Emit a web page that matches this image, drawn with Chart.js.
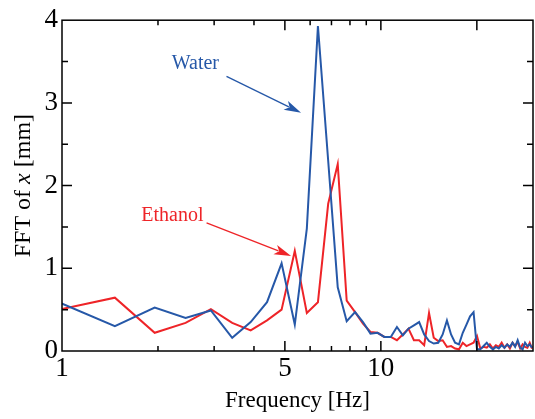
<!DOCTYPE html>
<html>
<head>
<meta charset="utf-8">
<script src="https://cdn.jsdelivr.net/npm/chart.js@4.4.0/dist/chart.umd.min.js"></script>
<style>
html, body { margin: 0; padding: 0; background: #fff; }
#wrap { width: 535px; height: 419px; }
</style>
</head>
<body>
<div id="wrap"><canvas id="fft"></canvas></div>
<script>
// frequency bins [Hz]
var freq = [0.977, 1.465, 1.953, 2.441, 2.930, 3.418, 3.906, 4.395, 4.883, 5.371,
    5.859, 6.348, 6.836, 7.324, 7.813, 8.301, 8.789, 9.277, 9.766, 10.254,
    10.742, 11.230, 11.719, 12.207, 12.695, 13.184, 13.672, 14.160, 14.648, 15.137,
    15.625, 16.113, 16.602, 17.090, 17.578, 18.066, 18.555, 19.043, 19.531, 20.020,
    20.508, 20.996, 21.484, 21.973, 22.461, 22.949, 23.438, 23.926, 24.414, 24.902,
    25.391, 25.879, 26.367, 26.855, 27.344, 27.832, 28.320, 28.809, 29.297, 29.785];

// FFT amplitude [mm]
var water = [0.59, 0.30, 0.525, 0.40, 0.49, 0.16, 0.35, 0.59, 1.06, 0.32,
    1.48, 3.93, 2.30, 0.77, 0.36, 0.47, 0.35, 0.21, 0.22, 0.17,
    0.17, 0.29, 0.19, 0.27, 0.31, 0.35, 0.20, 0.12, 0.09, 0.10,
    0.20, 0.37, 0.20, 0.10, 0.08, 0.22, 0.32, 0.42, 0.47, 0.02,
    0.02, 0.06, 0.10, 0.05, 0.02, 0.05, 0.03, 0.07, 0.04, 0.08,
    0.05, 0.10, 0.05, 0.13, 0.04, 0.02, 0.10, 0.06, 0.08, 0.04];

var ethanol = [0.50, 0.645, 0.22, 0.34, 0.505, 0.34, 0.25, 0.37, 0.50, 1.21,
    0.46, 0.59, 1.78, 2.26, 0.61, 0.47, 0.33, 0.23, 0.22, 0.17,
    0.17, 0.13, 0.20, 0.27, 0.13, 0.13, 0.07, 0.46, 0.16, 0.12,
    0.13, 0.05, 0.06, 0.03, 0.02, 0.10, 0.06, 0.08, 0.10, 0.18,
    0.03, 0.05, 0.04, 0.08, 0.03, 0.07, 0.05, 0.10, 0.04, 0.08,
    0.03, 0.10, 0.06, 0.11, 0.03, 0.08, 0.05, 0.04, 0.10, 0.03];

var xTicks = [1, 2, 3, 4, 5, 6, 7, 8, 9, 10, 20, 30];
var xLabels = [1, 5, 10];
var xMajor = [5, 10, 20];
var yTicks = [0, 1, 2, 3, 4];
var yMinor = [0.5, 1.5, 2.5, 3.5];

var blue = 'rgb(38, 88, 168)';
var red = 'rgb(238, 36, 40)';
var serif = "'Liberation Serif', 'Times New Roman', serif";

function pts(ys) {
    return freq.map(function (f, i) { return { x: f, y: ys[i] }; });
}

// box, inward ticks, y title and the two arrows
var frame = {
    id: 'frame',
    afterDraw: function (chart) {
        var c = chart.ctx, a = chart.chartArea;
        var xs = chart.scales.x, ys = chart.scales.y;
        c.save();
        c.strokeStyle = '#000';
        c.lineWidth = 1.5;
        c.strokeRect(a.left, a.top, a.right - a.left, a.bottom - a.top);
        c.beginPath();
        xTicks.forEach(function (v) {
            var px = xs.getPixelForValue(v);
            if (px <= a.left + 1 || px >= a.right - 1) return;
            var len = xMajor.indexOf(v) >= 0 ? 10 : 5;
            c.moveTo(px, a.bottom); c.lineTo(px, a.bottom - len);
            c.moveTo(px, a.top); c.lineTo(px, a.top + len);
        });
        yTicks.concat(yMinor).forEach(function (v) {
            var py = ys.getPixelForValue(v);
            if (py <= a.top + 1 || py >= a.bottom - 1) return;
            var len = yTicks.indexOf(v) >= 0 ? 10 : 6;
            c.moveTo(a.left, py); c.lineTo(a.left + len, py);
            c.moveTo(a.right, py); c.lineTo(a.right - len, py);
        });
        c.stroke();

        // y title with italic x
        var parts = [['FFT of ', ''], ['x', 'italic '], [' [mm]', '']];
        var size = 24, w = 0;
        parts.forEach(function (p) { c.font = p[1] + size + 'px ' + serif; w += c.measureText(p[0]).width; });
        c.translate(24, (a.top + a.bottom) / 2);
        c.rotate(-Math.PI / 2);
        c.fillStyle = '#000';
        c.textBaseline = 'middle';
        c.textAlign = 'left';
        var x0 = -w / 2;
        parts.forEach(function (p) {
            c.font = p[1] + size + 'px ' + serif;
            c.fillText(p[0], x0, 0);
            x0 += c.measureText(p[0]).width;
        });
        c.restore();

        note(chart, 'Water', blue, 2.62, 3.47, [3.28, 3.32], [5.62, 2.88]);
        note(chart, 'Ethanol', red, 2.22, 1.64, [2.84, 1.55], [5.23, 1.15]);
    }
};

function note(chart, text, color, tx, ty, from, to) {
    var c = chart.ctx, xs = chart.scales.x, ys = chart.scales.y;
    var x1 = xs.getPixelForValue(from[0]), y1 = ys.getPixelForValue(from[1]);
    var x2 = xs.getPixelForValue(to[0]), y2 = ys.getPixelForValue(to[1]);
    var ang = Math.atan2(y2 - y1, x2 - x1), L = 17, H = 5;
    c.save();
    c.fillStyle = color;
    c.strokeStyle = color;
    c.font = '20px ' + serif;
    c.textAlign = 'center';
    c.textBaseline = 'middle';
    c.fillText(text, xs.getPixelForValue(tx), ys.getPixelForValue(ty));
    c.lineWidth = 1.3;
    c.beginPath();
    c.moveTo(x1, y1);
    c.lineTo(x2 - L * 0.8 * Math.cos(ang), y2 - L * 0.8 * Math.sin(ang));
    c.stroke();
    c.beginPath();
    c.moveTo(x2, y2);
    c.lineTo(x2 - L * Math.cos(ang) + H * Math.sin(ang), y2 - L * Math.sin(ang) - H * Math.cos(ang));
    c.lineTo(x2 - L * 0.75 * Math.cos(ang), y2 - L * 0.75 * Math.sin(ang));
    c.lineTo(x2 - L * Math.cos(ang) - H * Math.sin(ang), y2 - L * Math.sin(ang) + H * Math.cos(ang));
    c.closePath();
    c.fill();
    c.restore();
}

var ctx = document.getElementById('fft').getContext('2d');
var chart = new Chart(ctx, {
    type: 'line',
    data: {
        datasets: [{
            label: 'Water',
            data: pts(water),
            borderColor: blue,
            borderWidth: 2,
            pointRadius: 0,
            tension: 0
        }, {
            label: 'Ethanol',
            data: pts(ethanol),
            borderColor: red,
            borderWidth: 2,
            pointRadius: 0,
            tension: 0
        }]
    },
    options: {
        responsive: true,
        maintainAspectRatio: false,
        animation: false,
        layout: { padding: { top: 16, right: 2, left: 0, bottom: 0 } },
        plugins: { legend: { display: false }, tooltip: { enabled: false } },
        scales: {
            x: {
                type: 'logarithmic',
                min: 1,
                max: 30,
                grid: { display: false, drawTicks: false },
                border: { display: false },
                afterBuildTicks: function (s) {
                    s.ticks = xTicks.map(function (v) { return { value: v }; });
                },
                afterFit: function (s) { s.height = 68; },
                ticks: {
                    autoSkip: false,
                    maxRotation: 0,
                    padding: 2,
                    color: '#000',
                    font: { family: serif, size: 27 },
                    callback: function (v) { return xLabels.indexOf(v) >= 0 ? String(v) : ''; }
                },
                title: {
                    display: true,
                    text: 'Frequency [Hz]',
                    color: '#000',
                    font: { family: serif, size: 23 },
                    padding: { top: 0, bottom: 4 }
                }
            },
            y: {
                min: 0,
                max: 4,
                grid: { display: false, drawTicks: false },
                border: { display: false },
                afterBuildTicks: function (s) {
                    s.ticks = yTicks.map(function (v) { return { value: v }; });
                },
                afterFit: function (s) { s.width = 62; },
                ticks: {
                    padding: 4,
                    color: '#000',
                    font: { family: serif, size: 27 }
                }
            }
        }
    },
    plugins: [frame]
});
</script>
</body>
</html>
